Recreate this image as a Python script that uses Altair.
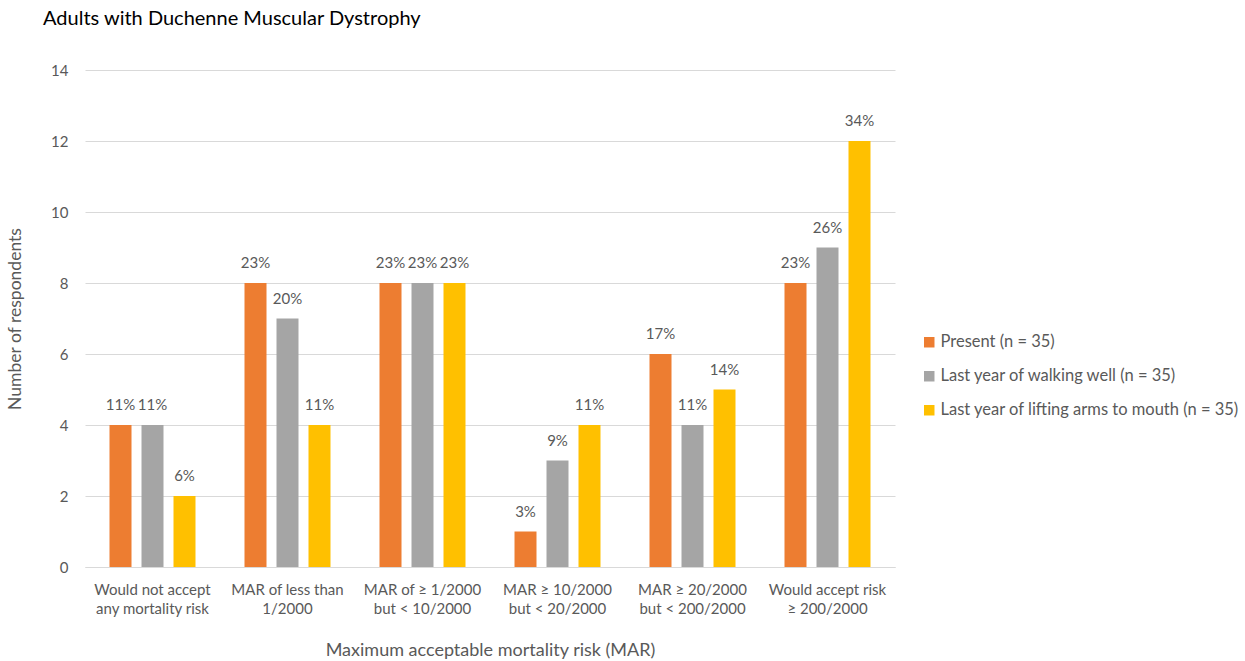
import altair as alt
import pandas as pd

categories = [
    "Would not accept|any mortality risk",
    "MAR of less than|1/2000",
    "MAR of ≥ 1/2000|but < 10/2000",
    "MAR ≥ 10/2000|but < 20/2000",
    "MAR ≥ 20/2000|but < 200/2000",
    "Would accept risk|≥ 200/2000",
]
series = [
    "Present (n = 35)",
    "Last year of walking well (n = 35)",
    "Last year of lifting arms to mouth (n = 35)",
]
present = [4, 8, 8, 1, 6, 8]
walking = [4, 7, 8, 3, 4, 9]
lifting = [2, 4, 8, 4, 5, 12]
present_pct = ["11%", "23%", "23%", "3%", "17%", "23%"]
walking_pct = ["11%", "20%", "23%", "9%", "11%", "26%"]
lifting_pct = ["6%", "11%", "23%", "11%", "14%", "34%"]
colors = ["#ED7D31", "#A5A5A5", "#FFC000"]

rows = []
for name, vals, pcts in zip(series, [present, walking, lifting],
                            [present_pct, walking_pct, lifting_pct]):
    for cat, v, p in zip(categories, vals, pcts):
        rows.append({"category": cat, "series": name, "count": v, "pct": p})
df = pd.DataFrame(rows)

FONT = "Lato"
GREY_TEXT = "#595959"

x_enc = alt.X(
    "category:N",
    sort=categories,
    scale=alt.Scale(paddingInner=0.363, paddingOuter=0.1815),
    axis=alt.Axis(
        title="Maximum acceptable mortality risk (MAR)",
        labelExpr="split(datum.label, '|')",
        labelAngle=0,
        labelColor=GREY_TEXT,
        labelFontSize=15,
        labelFont=FONT,
        labelPadding=15,
        labelLineHeight=19,
        labelLimit=300,
        titleColor=GREY_TEXT,
        titleFontSize=18,
        titleFont=FONT,
        titleFontWeight="normal",
        titlePadding=25,
        ticks=False,
        domain=True,
        domainColor="#D9D9D9",
        grid=False,
    ),
)
xoff_enc = alt.XOffset(
    "series:N",
    sort=series,
    scale=alt.Scale(paddingInner=0.3125, paddingOuter=0),
)
y_enc = alt.Y(
    "count:Q",
    scale=alt.Scale(domain=[0, 14]),
    axis=alt.Axis(
        title="Number of respondents",
        values=[0, 2, 4, 6, 8, 10, 12, 14],
        labelColor=GREY_TEXT,
        labelFontSize=15,
        labelFont=FONT,
        labelPadding=17,
        titleColor=GREY_TEXT,
        titleFontSize=17.5,
        titleFont=FONT,
        titleFontWeight="normal",
        titlePadding=26,
        ticks=False,
        domain=False,
        gridColor="#D9D9D9",
        gridWidth=1,
    ),
)

bars = alt.Chart(df).mark_bar().encode(
    x=x_enc,
    xOffset=xoff_enc,
    y=y_enc,
    color=alt.Color(
        "series:N",
        sort=series,
        scale=alt.Scale(domain=series, range=colors),
        legend=alt.Legend(
            title=None,
            orient="none",
            legendX=836,
            legendY=264,
            symbolType="square",
            symbolSize=110,
            symbolStrokeWidth=0,
            labelFont=FONT,
            labelFontSize=16.5,
            labelColor=GREY_TEXT,
            labelLimit=400,
            rowPadding=17,
            labelOffset=3,
        ),
    ),
)

labels = alt.Chart(df).mark_text(
    dy=-12, font=FONT, fontSize=15, color=GREY_TEXT, baseline="bottom"
).encode(
    x=alt.X("category:N", sort=categories),
    xOffset=alt.XOffset("series:N", sort=series),
    y="count:Q",
    text="pct:N",
)

chart = (
    alt.layer(bars, labels)
    .properties(
        width=810,
        height=497,
        background="white",
        title=alt.TitleParams(
            "Adults with Duchenne Muscular Dystrophy",
            anchor="start",
            frame="group",
            dx=-42,
            offset=34,
            font=FONT,
            fontSize=20,
            fontWeight="normal",
            color="#000000",
        ),
        autosize=alt.AutoSizeParams(type="none"),
        padding={"left": 85, "top": 70, "right": 350, "bottom": 94},
    )
    .configure_view(stroke="transparent")
)

chart.save("out.html", embed_options={"renderer": "svg", "actions": False})
